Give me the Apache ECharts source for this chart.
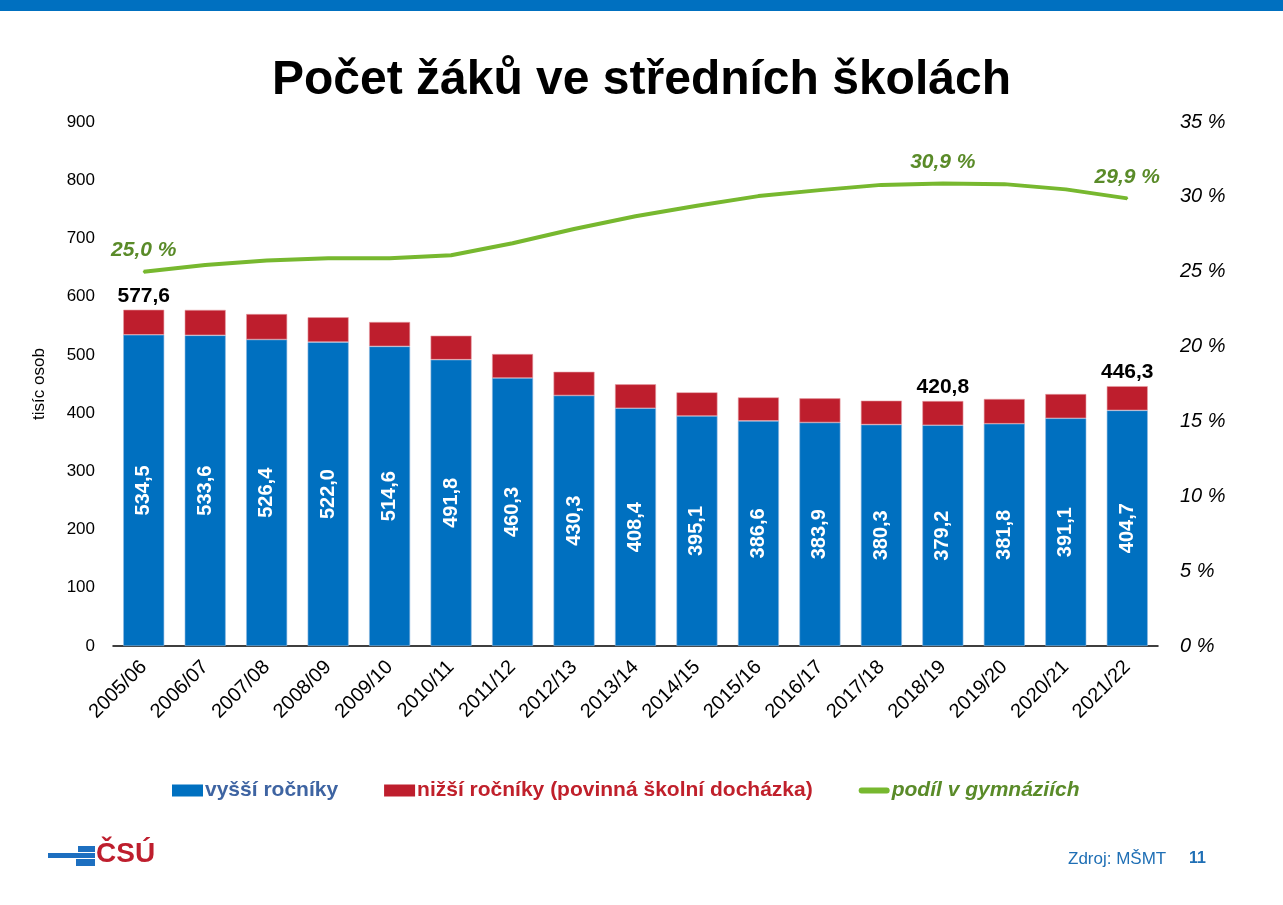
<!DOCTYPE html>
<html>
<head>
<meta charset="utf-8">
<title>Počet žáků ve středních školách</title>
<script src="https://cdn.jsdelivr.net/npm/echarts@6/dist/echarts.min.js"></script>
<style>
    html, body { margin: 0; padding: 0; background: #fff; }
    #chart { width: 1283px; height: 905px; }
</style>
</head>
<body>
<div id="chart"></div>
<script>
    // school years
    var years = ['2005/06', '2006/07', '2007/08', '2008/09', '2009/10', '2010/11', '2011/12', '2012/13',
        '2013/14', '2014/15', '2015/16', '2016/17', '2017/18', '2018/19', '2019/20', '2020/21', '2021/22'];
    // upper grades, thousands (labelled in the bars)
    var vyssi = [534.5, 533.6, 526.4, 522.0, 514.6, 491.8, 460.3, 430.3, 408.4, 395.1, 386.6, 383.9, 380.3,
        379.2, 381.8, 391.1, 404.7];
    // lower grades of gymnasia (compulsory schooling)
    var nizsi = [43.1, 43.7, 43.8, 42.6, 41.9, 41.2, 41.2, 40.7, 41.1, 40.6, 40.4, 41.5, 41.1,
        41.6, 42.5, 41.7, 41.6];
    // share of pupils in gymnasia, %
    var podil = [25.0, 25.45, 25.75, 25.9, 25.9, 26.1, 26.9, 27.85, 28.7, 29.4, 30.05, 30.45, 30.8,
        30.9, 30.85, 30.5, 29.9];
    // which points get a label on top
    var labelIdx = [0, 13, 16];
    var yTicks = [0, 100, 200, 300, 400, 500, 600, 700, 800, 900];
    var pctTicks = [0, 5, 10, 15, 20, 25, 30, 35];

    var FONT = 'Arial, "Liberation Sans", sans-serif';
    var cz = function (v) {
        return v.toFixed(1).replace('.', ',');
    };

    var chart = echarts.init(document.getElementById('chart'));
    var option = {
        backgroundColor: '#fff',
        textStyle: { fontFamily: FONT },
        title: {
            text: 'Počet žáků ve středních školách',
            left: 'center',
            top: 52,
            textStyle: { fontSize: 48, fontWeight: 'bold', color: '#000', fontFamily: FONT }
        },
        legend: {
            top: 775,
            left: 167,
            itemWidth: 31,
            itemHeight: 12,
            itemGap: 46,
            itemStyle: { borderWidth: 0 },
            textStyle: { fontSize: 21, fontWeight: 'bold', fontFamily: FONT, padding: [0, 0, 0, -3] },
            data: [
                { name: 'vyšší ročníky', icon: 'rect', textStyle: { color: '#3e64a2' } },
                { name: 'nižší ročníky (povinná školní docházka)', icon: 'rect', textStyle: { color: '#c0202b' } },
                {
                    name: 'podíl v gymnáziích',
                    icon: 'path://M3,0H29A3,3 0 0 1 29,6H3A3,3 0 0 1 3,0Z',
                    textStyle: { color: '#5a8b29', fontStyle: 'italic' }
                }
            ]
        },
        grid: { left: 113, right: 125, top: 122, bottom: 259 },
        xAxis: {
            type: 'category',
            data: years,
            axisLine: { lineStyle: { color: '#000', width: 1.5 } },
            axisTick: { length: 6, lineStyle: { color: '#000' } },
            axisLabel: { rotate: 45, fontSize: 20, color: '#000', margin: 18, interval: 0 }
        },
        yAxis: [{
            type: 'value',
            min: yTicks[0],
            max: yTicks[yTicks.length - 1],
            interval: 100,
            name: 'tisíc osob',
            nameLocation: 'middle',
            nameGap: 65,
            nameTextStyle: { fontSize: 17, color: '#000' },
            axisLine: { show: false },
            axisTick: { show: false },
            splitLine: { show: false },
            axisLabel: { fontSize: 17, color: '#000', margin: 18 }
        }, {
            type: 'value',
            min: pctTicks[0],
            max: pctTicks[pctTicks.length - 1],
            interval: 5,
            axisLine: { show: false },
            axisTick: { show: false },
            splitLine: { show: false },
            axisLabel: {
                fontSize: 20, color: '#000', fontStyle: 'italic', margin: 22,
                formatter: function (v) { return v + ' %'; }
            }
        }],
        series: [{
            name: 'vyšší ročníky',
            type: 'bar',
            stack: 'zaci',
            barWidth: 41,
            itemStyle: { color: '#0070c0', borderColor: '#8fb8e0', borderWidth: 0.6 },
            label: {
                show: true,
                position: 'inside',
                rotate: 90,
                color: '#fff',
                fontSize: 20,
                fontWeight: 'bold',
                formatter: function (p) { return cz(p.value); }
            },
            data: vyssi
        }, {
            name: 'nižší ročníky (povinná školní docházka)',
            type: 'bar',
            stack: 'zaci',
            barWidth: 41,
            itemStyle: { color: '#be1e2d', borderColor: '#e6a0a6', borderWidth: 0.6 },
            label: {
                show: true,
                position: 'top',
                distance: 3,
                color: '#000',
                fontSize: 21,
                fontWeight: 'bold',
                formatter: function (p) {
                    if (labelIdx.indexOf(p.dataIndex) < 0) return '';
                    return cz(vyssi[p.dataIndex] + nizsi[p.dataIndex]);
                }
            },
            data: nizsi
        }, {
            name: 'podíl v gymnáziích',
            type: 'line',
            yAxisIndex: 1,
            symbol: 'circle',
            symbolSize: 2,
            showSymbol: true,
            lineStyle: { color: '#77b82f', width: 4 },
            itemStyle: { color: '#77b82f' },
            label: {
                show: true,
                position: 'top',
                distance: 10,
                color: '#5a8b29',
                fontSize: 21,
                fontWeight: 'bold',
                fontStyle: 'italic',
                formatter: function (p) {
                    if (labelIdx.indexOf(p.dataIndex) < 0) return '';
                    return cz(p.value) + ' %';
                }
            },
            data: podil
        }],
        graphic: [
            { type: 'rect', left: 0, top: 0, shape: { width: 1283, height: 11 }, style: { fill: '#0070c0' } },
            // CSU logo
            { type: 'rect', left: 78, top: 846, shape: { width: 17, height: 6 }, style: { fill: '#1d6fc0' } },
            { type: 'rect', left: 48, top: 853, shape: { width: 47, height: 5 }, style: { fill: '#1d6fc0' } },
            { type: 'rect', left: 76, top: 859, shape: { width: 19, height: 7 }, style: { fill: '#1d6fc0' } },
            {
                type: 'text', left: 96, top: 840,
                style: { text: 'ČSÚ', fill: '#be1e2d', font: 'bold 28px "Liberation Sans", Arial' }
            },
            {
                type: 'text', left: 1068, top: 851,
                style: { text: 'Zdroj: MŠMT', fill: '#1f6fb5', font: '17px "Liberation Sans", Arial' }
            },
            {
                type: 'text', left: 1189, top: 851,
                style: { text: '11', fill: '#1f6fb5', font: 'bold 16px "Liberation Sans", Arial' }
            }
        ]
    };
    chart.setOption(option);
</script>
</body>
</html>
